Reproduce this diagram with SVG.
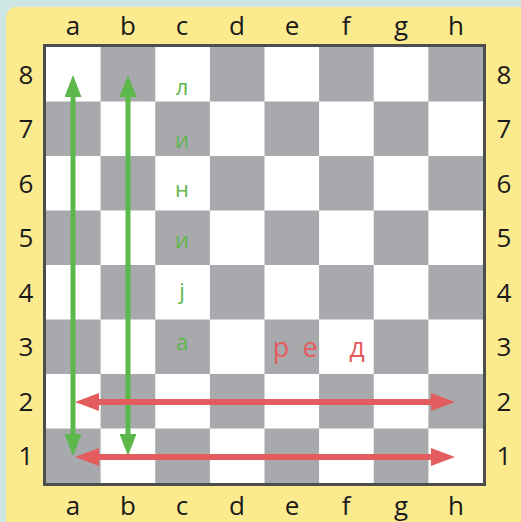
<svg xmlns="http://www.w3.org/2000/svg" width="521" height="522" viewBox="0 0 521 522">
<style>
.lbl{font-family:"Open Sans","Liberation Sans",sans-serif;font-size:26px;fill:#1a1a1a;text-anchor:middle}
.g{fill:#a8a9ad}
.w{fill:#ffffff}
.gt{font-family:"Open Sans","Liberation Sans",sans-serif;font-size:22px;fill:#5cb84b;text-anchor:middle}
.rt{font-family:"Open Sans","Liberation Sans",sans-serif;font-size:27px;fill:#e35d5f;text-anchor:middle}
.ga{stroke:#5cb84b;stroke-width:5;fill:none}
.ra{stroke:#e35d5f;stroke-width:6;fill:none}
</style>
<defs>
<marker id="gh" viewBox="0 0 22 17" refX="0" refY="8.5" markerWidth="22" markerHeight="17" markerUnits="userSpaceOnUse" orient="auto-start-reverse"><path d="M0,0 L22,8.5 L0,17 z" fill="#5cb84b"/></marker>
<marker id="rh" viewBox="0 0 24 18" refX="0" refY="9" markerWidth="24" markerHeight="18" markerUnits="userSpaceOnUse" orient="auto-start-reverse"><path d="M0,0 L24,9 L0,18 z" fill="#e35d5f"/></marker>
</defs>
<rect x="0" y="0" width="521" height="522" fill="#cde6e3"/>
<rect x="6" y="7" width="530" height="530" rx="10" fill="#fcea8f"/>
<g id="board">
<rect x="44.5" y="45.5" width="440" height="439" fill="#ffffff" stroke="#4d4d4d" stroke-width="3"/>
<rect class="g" x="100.6" y="47" width="54.65" height="54.5"/>
<rect class="g" x="209.9" y="47" width="54.6" height="54.5"/>
<rect class="g" x="319.1" y="47" width="54.65" height="54.5"/>
<rect class="g" x="428.4" y="47" width="54.6" height="54.5"/>
<rect class="g" x="46" y="101.5" width="54.6" height="54.5"/>
<rect class="g" x="155.25" y="101.5" width="54.65" height="54.5"/>
<rect class="g" x="264.5" y="101.5" width="54.6" height="54.5"/>
<rect class="g" x="373.75" y="101.5" width="54.65" height="54.5"/>
<rect class="g" x="100.6" y="156" width="54.65" height="54.5"/>
<rect class="g" x="209.9" y="156" width="54.6" height="54.5"/>
<rect class="g" x="319.1" y="156" width="54.65" height="54.5"/>
<rect class="g" x="428.4" y="156" width="54.6" height="54.5"/>
<rect class="g" x="46" y="210.5" width="54.6" height="54.5"/>
<rect class="g" x="155.25" y="210.5" width="54.65" height="54.5"/>
<rect class="g" x="264.5" y="210.5" width="54.6" height="54.5"/>
<rect class="g" x="373.75" y="210.5" width="54.65" height="54.5"/>
<rect class="g" x="100.6" y="265" width="54.65" height="54.5"/>
<rect class="g" x="209.9" y="265" width="54.6" height="54.5"/>
<rect class="g" x="319.1" y="265" width="54.65" height="54.5"/>
<rect class="g" x="428.4" y="265" width="54.6" height="54.5"/>
<rect class="g" x="46" y="319.5" width="54.6" height="54.5"/>
<rect class="g" x="155.25" y="319.5" width="54.65" height="54.5"/>
<rect class="g" x="264.5" y="319.5" width="54.6" height="54.5"/>
<rect class="g" x="373.75" y="319.5" width="54.65" height="54.5"/>
<rect class="g" x="100.6" y="374" width="54.65" height="54.5"/>
<rect class="g" x="209.9" y="374" width="54.6" height="54.5"/>
<rect class="g" x="319.1" y="374" width="54.65" height="54.5"/>
<rect class="g" x="428.4" y="374" width="54.6" height="54.5"/>
<rect class="g" x="46" y="428.5" width="54.6" height="54.5"/>
<rect class="g" x="155.25" y="428.5" width="54.65" height="54.5"/>
<rect class="g" x="264.5" y="428.5" width="54.6" height="54.5"/>
<rect class="g" x="373.75" y="428.5" width="54.65" height="54.5"/>
</g>
<g id="file-labels-top">
<text class="lbl" x="73" y="35">a</text>
<text class="lbl" x="128" y="35">b</text>
<text class="lbl" x="182" y="35">c</text>
<text class="lbl" x="237" y="35">d</text>
<text class="lbl" x="292" y="35">e</text>
<text class="lbl" x="346" y="35">f</text>
<text class="lbl" x="401" y="35">g</text>
<text class="lbl" x="456" y="35">h</text>
</g>
<g id="file-labels-bottom">
<text class="lbl" x="73" y="515">a</text>
<text class="lbl" x="128" y="515">b</text>
<text class="lbl" x="182" y="515">c</text>
<text class="lbl" x="237" y="515">d</text>
<text class="lbl" x="292" y="515">e</text>
<text class="lbl" x="346" y="515">f</text>
<text class="lbl" x="401" y="515">g</text>
<text class="lbl" x="456" y="515">h</text>
</g>
<g id="rank-labels-left">
<text class="lbl" x="26" y="83.5">8</text>
<text class="lbl" x="26" y="138">7</text>
<text class="lbl" x="26" y="192.5">6</text>
<text class="lbl" x="26" y="247">5</text>
<text class="lbl" x="26" y="301.5">4</text>
<text class="lbl" x="26" y="356">3</text>
<text class="lbl" x="26" y="410.5">2</text>
<text class="lbl" x="26" y="465">1</text>
</g>
<g id="rank-labels-right">
<text class="lbl" x="504" y="83.5">8</text>
<text class="lbl" x="504" y="138">7</text>
<text class="lbl" x="504" y="192.5">6</text>
<text class="lbl" x="504" y="247">5</text>
<text class="lbl" x="504" y="301.5">4</text>
<text class="lbl" x="504" y="356">3</text>
<text class="lbl" x="504" y="410.5">2</text>
<text class="lbl" x="504" y="465">1</text>
</g>
<g id="word-linija">
<text class="gt" x="182" y="95">л</text>
<text class="gt" x="182" y="148">и</text>
<text class="gt" x="182" y="197">н</text>
<text class="gt" x="182" y="248">и</text>
<text class="gt" x="182" y="299">ј</text>
<text class="gt" x="182" y="350">а</text>
</g>
<g id="word-red">
<text class="rt" x="281" y="357">р</text>
<text class="rt" x="310" y="357">е</text>
<text class="rt" x="357" y="357">д</text>
</g>
<g id="connectors">
<path class="ga" d="M73,97 V434" marker-start="url(#gh)" marker-end="url(#gh)"/>
<path class="ga" d="M128,97 V434" marker-start="url(#gh)" marker-end="url(#gh)"/>
<path class="ra" d="M99,402 H431" marker-start="url(#rh)" marker-end="url(#rh)"/>
<path class="ra" d="M99,457 H431" marker-start="url(#rh)" marker-end="url(#rh)"/>
</g>
</svg>
